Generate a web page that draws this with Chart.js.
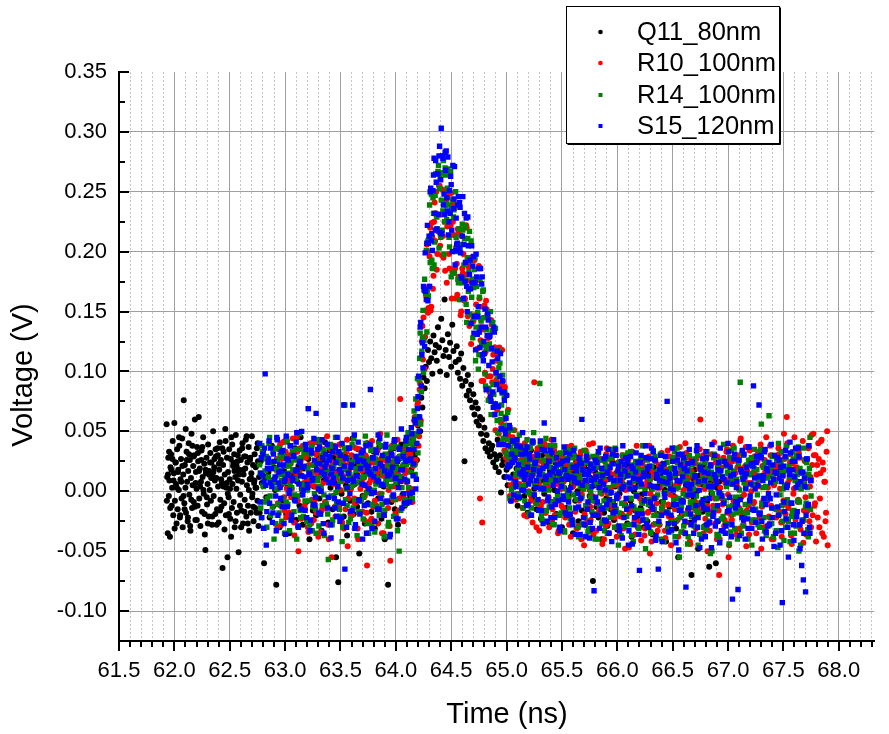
<!DOCTYPE html>
<html>
<head>
<meta charset="utf-8">
<title>Voltage vs time</title>
<script src="https://cdn.jsdelivr.net/npm/chart.js@4.4.1/dist/chart.umd.min.js"></script>
<style>
  html, body { margin: 0; padding: 0; background: #fff; }
  canvas { display: block; }
</style>
</head>
<body>
<canvas id="chart" width="889" height="734"></canvas>
<script>
// sample times (ns). Q11 starts earlier than the other three.
const q11EarlyTime = [
  61.930,61.935,61.940,61.945,61.950,61.955,61.960,61.965,61.970,61.975,
  61.980,61.985,61.990,61.995,62.000,62.005,62.010,62.015,62.020,62.025,
  62.030,62.035,62.040,62.045,62.050,62.055,62.060,62.065,62.070,62.075,
  62.080,62.085,62.090,62.095,62.100,62.105,62.110,62.115,62.120,62.125,
  62.130,62.135,62.140,62.145,62.150,62.155,62.160,62.165,62.170,62.175,
  62.180,62.185,62.190,62.195,62.200,62.205,62.210,62.215,62.220,62.225,
  62.230,62.235,62.240,62.245,62.250,62.255,62.260,62.265,62.270,62.275,
  62.280,62.285,62.290,62.295,62.300,62.305,62.310,62.315,62.320,62.325,
  62.330,62.335,62.340,62.345,62.350,62.355,62.360,62.365,62.370,62.375,
  62.380,62.385,62.390,62.395,62.400,62.405,62.410,62.415,62.420,62.425,
  62.430,62.435,62.440,62.445,62.450,62.455,62.460,62.465,62.470,62.475,
  62.480,62.485,62.490,62.495,62.500,62.505,62.510,62.515,62.520,62.525,
  62.530,62.535,62.540,62.545,62.550,62.555,62.560,62.565,62.570,62.575,
  62.580,62.585,62.590,62.595,62.600,62.605,62.610,62.615,62.620,62.625,
  62.630,62.635,62.640,62.645,62.650,62.655,62.660,62.665,62.670,62.675,
  62.680,62.685,62.690,62.695,62.700,62.705,62.710,62.715,62.720,62.725,
  62.730,62.735,62.740,62.745,62.750,62.755,62.760,62.765
];
const q11EarlyTimeOdd = [
  61.9325,61.9425,61.9525,61.9625,61.9725,61.9825,61.9925,62.0025,62.0125,62.0225,
  62.0325,62.0425,62.0525,62.0625,62.0725,62.0825,62.0925,62.1025,62.1125,62.1225,
  62.1325,62.1425,62.1525,62.1625,62.1725,62.1825,62.1925,62.2025,62.2125,62.2225,
  62.2325,62.2425,62.2525,62.2625,62.2725,62.2825,62.2925,62.3025,62.3125,62.3225,
  62.3325,62.3425,62.3525,62.3625,62.3725,62.3825,62.3925,62.4025,62.4125,62.4225,
  62.4325,62.4425,62.4525,62.4625,62.4725,62.4825,62.4925,62.5025,62.5125,62.5225,
  62.5325,62.5425,62.5525,62.5625,62.5725,62.5825,62.5925,62.6025,62.6125,62.6225,
  62.6325,62.6425,62.6525,62.6625,62.6725,62.6825,62.6925,62.7025,62.7125,62.7225,
  62.7325,62.7425,62.7525,62.7625
];

const timeNs = [
  62.77,62.78,62.79,62.80,62.81,62.82,62.83,62.84,62.85,62.86,
  62.87,62.88,62.89,62.90,62.91,62.92,62.93,62.94,62.95,62.96,
  62.97,62.98,62.99,63.00,63.01,63.02,63.03,63.04,63.05,63.06,
  63.07,63.08,63.09,63.10,63.11,63.12,63.13,63.14,63.15,63.16,
  63.17,63.18,63.19,63.20,63.21,63.22,63.23,63.24,63.25,63.26,
  63.27,63.28,63.29,63.30,63.31,63.32,63.33,63.34,63.35,63.36,
  63.37,63.38,63.39,63.40,63.41,63.42,63.43,63.44,63.45,63.46,
  63.47,63.48,63.49,63.50,63.51,63.52,63.53,63.54,63.55,63.56,
  63.57,63.58,63.59,63.60,63.61,63.62,63.63,63.64,63.65,63.66,
  63.67,63.68,63.69,63.70,63.71,63.72,63.73,63.74,63.75,63.76,
  63.77,63.78,63.79,63.80,63.81,63.82,63.83,63.84,63.85,63.86,
  63.87,63.88,63.89,63.90,63.91,63.92,63.93,63.94,63.95,63.96,
  63.97,63.98,63.99,64.00,64.01,64.02,64.03,64.04,64.05,64.06,
  64.07,64.08,64.09,64.10,64.11,64.12,64.13,64.14,64.15,64.16,
  64.17,64.18,64.19,64.20,64.21,64.22,64.23,64.24,64.25,64.26,
  64.27,64.28,64.29,64.30,64.31,64.32,64.33,64.34,64.35,64.36,
  64.37,64.38,64.39,64.40,64.41,64.42,64.43,64.44,64.45,64.46,
  64.47,64.48,64.49,64.50,64.51,64.52,64.53,64.54,64.55,64.56,
  64.57,64.58,64.59,64.60,64.61,64.62,64.63,64.64,64.65,64.66,
  64.67,64.68,64.69,64.70,64.71,64.72,64.73,64.74,64.75,64.76,
  64.77,64.78,64.79,64.80,64.81,64.82,64.83,64.84,64.85,64.86,
  64.87,64.88,64.89,64.90,64.91,64.92,64.93,64.94,64.95,64.96,
  64.97,64.98,64.99,65.00,65.01,65.02,65.03,65.04,65.05,65.06,
  65.07,65.08,65.09,65.10,65.11,65.12,65.13,65.14,65.15,65.16,
  65.17,65.18,65.19,65.20,65.21,65.22,65.23,65.24,65.25,65.26,
  65.27,65.28,65.29,65.30,65.31,65.32,65.33,65.34,65.35,65.36,
  65.37,65.38,65.39,65.40,65.41,65.42,65.43,65.44,65.45,65.46,
  65.47,65.48,65.49,65.50,65.51,65.52,65.53,65.54,65.55,65.56,
  65.57,65.58,65.59,65.60,65.61,65.62,65.63,65.64,65.65,65.66,
  65.67,65.68,65.69,65.70,65.71,65.72,65.73,65.74,65.75,65.76,
  65.77,65.78,65.79,65.80,65.81,65.82,65.83,65.84,65.85,65.86,
  65.87,65.88,65.89,65.90,65.91,65.92,65.93,65.94,65.95,65.96,
  65.97,65.98,65.99,66.00,66.01,66.02,66.03,66.04,66.05,66.06,
  66.07,66.08,66.09,66.10,66.11,66.12,66.13,66.14,66.15,66.16,
  66.17,66.18,66.19,66.20,66.21,66.22,66.23,66.24,66.25,66.26,
  66.27,66.28,66.29,66.30,66.31,66.32,66.33,66.34,66.35,66.36,
  66.37,66.38,66.39,66.40,66.41,66.42,66.43,66.44,66.45,66.46,
  66.47,66.48,66.49,66.50,66.51,66.52,66.53,66.54,66.55,66.56,
  66.57,66.58,66.59,66.60,66.61,66.62,66.63,66.64,66.65,66.66,
  66.67,66.68,66.69,66.70,66.71,66.72,66.73,66.74,66.75,66.76,
  66.77,66.78,66.79,66.80,66.81,66.82,66.83,66.84,66.85,66.86,
  66.87,66.88,66.89,66.90,66.91,66.92,66.93,66.94,66.95,66.96,
  66.97,66.98,66.99,67.00,67.01,67.02,67.03,67.04,67.05,67.06,
  67.07,67.08,67.09,67.10,67.11,67.12,67.13,67.14,67.15,67.16,
  67.17,67.18,67.19,67.20,67.21,67.22,67.23,67.24,67.25,67.26,
  67.27,67.28,67.29,67.30,67.31,67.32,67.33,67.34,67.35,67.36,
  67.37,67.38,67.39,67.40,67.41,67.42,67.43,67.44,67.45,67.46,
  67.47,67.48,67.49,67.50,67.51,67.52,67.53,67.54,67.55,67.56,
  67.57,67.58,67.59,67.60,67.61,67.62,67.63,67.64,67.65,67.66,
  67.67,67.68,67.69,67.70,67.71,67.72,67.73,67.74,67.75,67.76,
  67.77,67.78,67.79,67.80,67.81,67.82,67.83,67.84,67.85,67.86,
  67.87,67.88,67.89,67.90
];

// in-between samples for the three later sweeps
const timeNsOdd = [
  62.775,62.785,62.795,62.805,62.815,62.825,62.835,62.845,62.855,62.865,
  62.875,62.885,62.895,62.905,62.915,62.925,62.935,62.945,62.955,62.965,
  62.975,62.985,62.995,63.005,63.015,63.025,63.035,63.045,63.055,63.065,
  63.075,63.085,63.095,63.105,63.115,63.125,63.135,63.145,63.155,63.165,
  63.175,63.185,63.195,63.205,63.215,63.225,63.235,63.245,63.255,63.265,
  63.275,63.285,63.295,63.305,63.315,63.325,63.335,63.345,63.355,63.365,
  63.375,63.385,63.395,63.405,63.415,63.425,63.435,63.445,63.455,63.465,
  63.475,63.485,63.495,63.505,63.515,63.525,63.535,63.545,63.555,63.565,
  63.575,63.585,63.595,63.605,63.615,63.625,63.635,63.645,63.655,63.665,
  63.675,63.685,63.695,63.705,63.715,63.725,63.735,63.745,63.755,63.765,
  63.775,63.785,63.795,63.805,63.815,63.825,63.835,63.845,63.855,63.865,
  63.875,63.885,63.895,63.905,63.915,63.925,63.935,63.945,63.955,63.965,
  63.975,63.985,63.995,64.005,64.015,64.025,64.035,64.045,64.055,64.065,
  64.075,64.085,64.095,64.105,64.115,64.125,64.135,64.145,64.155,64.165,
  64.175,64.185,64.195,64.205,64.215,64.225,64.235,64.245,64.255,64.265,
  64.275,64.285,64.295,64.305,64.315,64.325,64.335,64.345,64.355,64.365,
  64.375,64.385,64.395,64.405,64.415,64.425,64.435,64.445,64.455,64.465,
  64.475,64.485,64.495,64.505,64.515,64.525,64.535,64.545,64.555,64.565,
  64.575,64.585,64.595,64.605,64.615,64.625,64.635,64.645,64.655,64.665,
  64.675,64.685,64.695,64.705,64.715,64.725,64.735,64.745,64.755,64.765,
  64.775,64.785,64.795,64.805,64.815,64.825,64.835,64.845,64.855,64.865,
  64.875,64.885,64.895,64.905,64.915,64.925,64.935,64.945,64.955,64.965,
  64.975,64.985,64.995,65.005,65.015,65.025,65.035,65.045,65.055,65.065,
  65.075,65.085,65.095,65.105,65.115,65.125,65.135,65.145,65.155,65.165,
  65.175,65.185,65.195,65.205,65.215,65.225,65.235,65.245,65.255,65.265,
  65.275,65.285,65.295,65.305,65.315,65.325,65.335,65.345,65.355,65.365,
  65.375,65.385,65.395,65.405,65.415,65.425,65.435,65.445,65.455,65.465,
  65.475,65.485,65.495,65.505,65.515,65.525,65.535,65.545,65.555,65.565,
  65.575,65.585,65.595,65.605,65.615,65.625,65.635,65.645,65.655,65.665,
  65.675,65.685,65.695,65.705,65.715,65.725,65.735,65.745,65.755,65.765,
  65.775,65.785,65.795,65.805,65.815,65.825,65.835,65.845,65.855,65.865,
  65.875,65.885,65.895,65.905,65.915,65.925,65.935,65.945,65.955,65.965,
  65.975,65.985,65.995,66.005,66.015,66.025,66.035,66.045,66.055,66.065,
  66.075,66.085,66.095,66.105,66.115,66.125,66.135,66.145,66.155,66.165,
  66.175,66.185,66.195,66.205,66.215,66.225,66.235,66.245,66.255,66.265,
  66.275,66.285,66.295,66.305,66.315,66.325,66.335,66.345,66.355,66.365,
  66.375,66.385,66.395,66.405,66.415,66.425,66.435,66.445,66.455,66.465,
  66.475,66.485,66.495,66.505,66.515,66.525,66.535,66.545,66.555,66.565,
  66.575,66.585,66.595,66.605,66.615,66.625,66.635,66.645,66.655,66.665,
  66.675,66.685,66.695,66.705,66.715,66.725,66.735,66.745,66.755,66.765,
  66.775,66.785,66.795,66.805,66.815,66.825,66.835,66.845,66.855,66.865,
  66.875,66.885,66.895,66.905,66.915,66.925,66.935,66.945,66.955,66.965,
  66.975,66.985,66.995,67.005,67.015,67.025,67.035,67.045,67.055,67.065,
  67.075,67.085,67.095,67.105,67.115,67.125,67.135,67.145,67.155,67.165,
  67.175,67.185,67.195,67.205,67.215,67.225,67.235,67.245,67.255,67.265,
  67.275,67.285,67.295,67.305,67.315,67.325,67.335,67.345,67.355,67.365,
  67.375,67.385,67.395,67.405,67.415,67.425,67.435,67.445,67.455,67.465,
  67.475,67.485,67.495,67.505,67.515,67.525,67.535,67.545,67.555,67.565,
  67.575,67.585,67.595,67.605,67.615,67.625,67.635,67.645,67.655,67.665,
  67.675,67.685,67.695,67.705,67.715,67.725,67.735,67.745,67.755,67.765,
  67.775,67.785,67.795,67.805,67.815,67.825,67.835,67.845,67.855,67.865,
  67.875,67.885,67.895
];

// voltages in mV
const q11EarlymV = [
  56,12,-35,28,-4,9,-38,20,31,-12,
  3,42,-20,15,57,-8,24,6,-27,35,
  -15,18,1,38,-22,10,27,-6,44,-30,
  14,76,-10,22,3,-18,33,8,-25,17,
  40,-3,26,-33,11,48,-14,5,21,-9,
  30,60,-24,16,2,37,-12,25,62,-6,
  19,-29,8,34,-17,12,45,-2,23,-36,
  -49,15,28,-11,6,39,-21,17,1,32,
  -8,24,-28,13,50,-4,20,9,-19,29,
  11,-15,36,4,-26,18,41,-7,26,-13,
  7,-64,22,33,-10,14,52,-20,3,28,
  -55,16,-5,35,10,-23,27,45,-14,6,
  21,-9,31,-30,12,47,2,-18,25,9,
  -51,18,34,-3,26,-16,8,40,-27,14,
  29,-7,19,43,-21,5,24,-12,37,-33,
  10,28,-18,15,46,-2,22,-25,7,31,
  -14,20,3,36,-8,25,-29,12
];
const q11EarlymVOdd = [
  -8,14,33,-14,18,27,9,-31,24,3,
  16,45,-20,8,21,-4,-15,52,26,-22,
  31,-29,-7,38,29,-13,7,-24,32,17,
  4,26,37,1,-19,18,-5,-27,14,24,
  11,-21,16,27,35,-28,30,23,-16,10,
  36,4,-32,42,7,-2,-19,2,-38,39,
  24,17,-25,21,30,14,-12,-30,36,18,
  -17,29,46,-27,1,26,11,-5,-13,9,
  3,-18,40,24
];

// Q11 on timeNs, ends at 66.93
const q11mV = [
  -18,25,7,33,-60,12,-5,28,16,-22,
  9,38,-13,20,1,-78,26,14,-30,5,
  31,-8,17,42,-19,3,24,-35,11,29,
  -4,15,36,-24,8,21,-12,45,2,-28,
  19,33,-9,6,27,-40,13,38,-16,4,
  22,-20,10,30,-6,17,-33,26,9,41,
  -11,14,-26,34,3,20,-15,28,7,-55,
  16,-76,24,39,-2,12,-21,30,5,-37,
  18,27,-8,11,44,-19,6,23,-13,35,
  -52,9,31,-4,16,-27,21,40,-10,2,
  26,-17,13,33,-31,8,19,-6,37,15,
  -23,29,4,-40,18,10,-78,24,32,-9,
  14,36,-15,21,5,-28,27,12,39,-3,
  20,-12,31,8,25,43,-5,18,34,22,
  30,48,26,55,62,50,78,70,95,86,
  104,92,118,108,125,111,98,130,116,122,
  109,137,120,100,144,126,113,160,118,97,
  131,112,124,104,139,117,61,108,121,99,
  110,94,115,88,103,25,92,80,97,84,
  76,89,70,81,64,74,58,69,55,62,
  48,60,42,53,36,47,33,40,29,35,
  38,24,31,20,27,43,16,30,-1,22,
  26,12,33,18,5,29,21,-8,24,14,
  31,9,19,-12,25,16,36,3,13,-4,
  22,8,-18,27,11,34,-6,15,2,20,
  -15,26,6,17,-23,30,9,-2,21,12,
  4,-26,18,28,-9,13,1,24,-19,7,
  15,-7,23,-30,10,3,19,-14,27,-3,
  -20,12,6,-35,17,-8,25,0,-25,9,
  14,-16,2,21,-28,7,-11,18,-4,11,
  -33,-75,5,16,-13,24,-22,3,13,-40,
  8,-18,20,-6,-29,10,1,-15,26,-9,
  -24,4,15,-32,9,-2,19,-19,6,12,
  -11,22,-27,3,14,-8,-38,17,0,-16,
  10,-21,5,25,-14,-3,13,-30,18,-7,
  -25,7,16,-12,2,-36,20,-5,11,-19,
  4,-28,14,-9,23,-17,1,-42,9,17,
  -13,6,-24,19,-4,12,-31,3,-55,8,
  15,-20,-8,24,-35,5,10,-15,2,-26,
  -70,11,-6,18,-22,0,-48,13,-11,6,
  -17,21,-29,4,-9,16,-63,7,-2,-20,
  10,-14,-60,3,-25,8,-5
];

// R10 on timeNs, starts at 62.92
const r10mV = [
  null,null,null,null,null,null,null,null,null,null,null,null,null,null,null,
  18,-30,35,6,-12,27,41,-5,14,-22,
  9,30,-18,23,2,44,-26,12,-8,33,
  -50,16,25,-3,38,7,-15,29,19,-34,
  11,40,-7,22,-24,4,31,15,-38,26,
  3,-16,35,20,-9,12,46,-28,8,17,
  -55,24,6,-13,32,15,-21,39,1,28,
  13,-31,22,9,43,-6,18,-19,30,5,
  25,-10,36,14,-40,21,2,33,-17,11,
  -4,29,-62,17,7,38,-23,24,10,-8,
  34,15,-27,20,48,-2,13,-35,26,6,
  19,-14,31,-58,10,23,4,37,-20,15,
  28,-6,77,12,21,-25,35,8,17,40,
  0,31,40,-9,24,62,26,56,74,46,
  90,84,138,145,102,151,206,149,171,220,
  154,212,180,241,232,185,217,255,205,231,
  252,195,225,242,174,245,198,224,249,183,
  214,236,161,190,219,179,219,150,186,198,
  159,181,220,146,187,193,123,170,142,193,
  145,176,132,188,-6,137,-26,92,155,116,
  152,96,122,78,143,91,114,120,51,93,
  114,48,89,57,118,87,34,51,80,24,
  46,-4,42,26,-6,51,11,40,-5,24,
  38,5,27,16,-20,33,11,24,0,19,
  -8,29,14,91,22,-30,36,7,18,-12,
  25,3,40,-18,13,31,-5,20,9,-25,
  17,34,-10,6,26,-33,15,2,28,-14,
  10,-22,23,37,-6,14,-38,19,4,30,
  -17,8,25,-29,12,33,-3,21,-45,6,
  16,-11,28,1,-24,18,40,-8,11,-33,
  22,5,-19,27,-2,14,-40,9,31,-12,
  -27,18,3,24,-15,7,35,-30,12,-5,
  20,-21,9,29,-10,-48,15,2,26,-18,
  6,33,-14,17,-36,11,-4,22,-25,13,
  -9,25,4,-31,19,8,-17,38,-2,-42,
  14,-6,27,-20,3,16,-28,10,32,-13,
  21,-33,7,18,-11,29,-3,-22,12,36,
  -15,5,24,-38,15,-7,30,-19,1,20,
  -26,11,-4,28,-44,17,6,-14,23,-31,
  8,-18,19,60,-9,13,-35,2,26,-12,
  17,-27,5,31,-16,10,-6,24,-40,14,
  -70,3,20,-11,28,-24,9,35,-3,-45,
  12,-20,25,-8,16,-32,4,30,-14,42,
  -5,19,-28,11,37,-16,7,-36,22,0,
  15,-10,29,-25,6,33,-19,12,-48,21,
  -7,26,-30,14,3,-21,38,-12,17,-40,
  10,-15,23,-33,31,2,-26,18,-8,27,
  -19,62,7,-11,24,-37,13,-2,45,-24,
  20,-9,32,-28,8,15,-43,26,-5,11,
  -16,37,4,-30,22,48,-12,30,14,-22,
  27,-6,42,-35,18,8,-25,33,-45
];
// R10 on timeNsOdd, starts at 62.925
const r10mVOdd = [
  null,null,null,null,null,null,null,null,null,null,null,null,null,null,null,
  27,-10,15,39,-28,6,21,-16,33,2,
  -19,24,8,-5,31,17,-37,12,45,-8,
  14,36,-23,20,3,-12,28,9,-30,22,
  5,-27,32,16,-9,41,-18,25,1,13,
  -34,19,7,29,-14,22,10,-40,26,35,
  18,-4,38,-21,11,4,30,-11,16,-26,
  9,27,-15,33,-46,14,23,2,-20,37,
  -6,13,25,-31,19,35,-8,17,6,-24,
  30,-18,3,21,-25,10,42,-13,24,8,
  -12,34,18,-2,27,-35,15,30,-9,20,
  22,1,-29,12,38,-7,26,-19,11,43,
  -16,29,10,35,-4,20,15,40,27,31,
  28,2,46,21,59,23,47,72,38,85,
  59,125,110,170,129,163,200,153,196,151,
  224,169,225,209,250,198,231,255,213,197,
  213,251,184,239,221,249,186,222,161,225,
  240,186,204,164,216,200,147,213,182,161,
  161,222,176,191,138,195,175,142,193,147,
  156,119,177,161,126,92,154,135,99,159,
  147,128,83,96,139,102,64,120,109,68,
  71,120,90,40,92,60,87,28,48,68,
  45,5,29,45,7,28,-7,35,17,6,
  31,2,-14,24,40,9,-21,18,36,-3,
  15,-26,28,6,-10,33,20,-33,12,25,
  -9,21,37,-18,4,27,-30,14,43,-15,
  26,-20,10,31,-35,16,2,-12,29,8,
  -17,35,-5,19,-28,12,38,-24,5,22,
  11,-31,24,-8,30,-40,17,7,-19,34,
  -26,9,39,-13,21,-4,-36,28,13,-10,
  20,-16,3,26,-44,18,8,-29,36,-2,
  -35,27,-11,14,32,-22,5,-38,24,10,
  6,-19,30,-31,17,1,26,-14,-47,19,
  -14,33,8,-25,12,38,-30,15,-6,-41,
  23,-8,-37,20,4,-18,29,-52,11,16,
  -28,14,25,-10,-33,22,3,31,-16,7,
  17,-39,9,34,-21,12,-45,19,2,-27,
  -5,28,-24,6,37,-13,21,-34,15,40,
  32,-17,11,-42,24,-2,-28,13,-9,27,
  -20,6,35,-15,-38,30,10,-23,18,-50,
  13,-33,22,3,-12,41,-27,8,29,-16,
  -40,19,-6,26,-29,7,33,-18,-55,24,
  9,-24,38,-11,15,-36,20,2,-31,44,
  -18,31,-3,21,-46,16,-12,34,7,-26,
  27,-9,14,-35,25,4,-22,39,-13,11,
  -30,16,45,-8,12,-27,30,-40,21,5,
  8,-22,19,36,-17,26,-38,13,48,-11,
  -24,40,-14,10,31,-44,23,2,-19,35,
  18,-7,28,-32,6,42,-16,25,-36,14,
  36,-25,12,47,-20,30,-10,-42,22,40,
  -30,15,43,24,-38,8,-18,50
];

// R14 on timeNs, ends at 67.75
const r14mV = [
  22,-14,38,5,-31,17,29,-6,12,45,
  -20,8,33,-40,19,2,26,-11,36,14,
  -25,30,7,21,-9,41,15,-33,24,3,
  18,-17,35,10,-4,27,48,-22,13,6,
  32,-8,20,1,69,-28,16,37,-13,9,
  25,-35,11,43,4,-19,30,14,-3,22,
  -10,28,-57,17,39,7,-24,20,34,-1,
  13,26,-15,8,31,-30,19,72,2,-12,
  36,10,-23,24,5,44,-7,16,-37,29,
  8,-18,33,12,-5,21,40,-27,15,1,
  27,-11,18,35,-34,6,24,11,-20,38,
  -3,16,29,-16,9,47,-29,22,4,31,
  14,-21,26,7,37,19,-50,12,28,20,
  22,-7,38,9,49,-8,24,40,-6,44,
  22,77,48,32,93,132,83,128,99,177,
  165,133,209,210,191,248,186,232,208,265,
  229,267,203,262,243,218,276,225,264,227,
  269,212,233,179,243,229,182,250,205,177,
  219,202,160,223,177,211,176,141,211,183,
  148,209,177,144,185,109,171,149,114,177,
  142,113,168,122,88,135,145,86,119,64,
  134,89,73,136,90,49,103,107,65,82,
  44,79,62,31,66,28,-6,43,34,3,
  28,8,36,18,-6,31,12,24,-14,20,
  5,33,15,-19,26,9,40,-3,17,22,
  -10,29,11,90,3,-24,19,34,7,-16,
  24,1,38,-9,14,27,-28,10,20,-4,
  31,-20,16,6,25,-33,12,35,-1,18,
  -14,22,8,-26,30,13,-7,19,-38,11,
  26,-5,17,34,-22,4,15,-31,23,0,
  -17,29,9,-40,20,6,32,-12,14,-27,
  18,-8,25,3,-35,21,-2,11,28,-19,
  7,36,-15,16,-45,24,2,-10,30,-29,
  13,-21,27,5,-6,33,-37,15,-13,20,
  -3,23,-30,10,18,-16,38,-8,1,-24,
  26,-11,12,-34,21,4,-20,29,-5,14,
  -27,8,31,-14,17,-42,11,-1,24,-18,
  6,19,-33,28,-7,13,-25,36,3,-55,
  20,-12,9,-29,25,-4,15,-38,30,-9,
  -21,14,2,27,-16,7,-45,22,-10,18,
  11,-30,24,-6,33,-19,5,-52,16,-2,
  28,-14,8,-36,19,-3,26,-23,12,39,
  -8,21,-27,15,-44,6,34,-12,17,-31,
  9,-18,25,-5,91,-35,12,30,-20,3,
  22,-40,14,-9,28,-24,6,35,-15,18,
  -28,10,31,56,-12,20,-33,4,24,-6,
  63,-22,13,29,-38,8,-14,26,-47,15,
  -3,33,-25,17,5,-30,38,-10,21,-42,
  12,-17,27,-35,9,30,-8,-50,19,2,
  -24,36,7,-13,24,-32,14,45,-4
];
// R14 on timeNsOdd, ends at 67.745
const r14mVOdd = [
  15,-22,33,4,-9,27,-30,11,40,-4,
  24,-13,7,36,-27,18,2,-18,30,9,
  -6,29,-35,14,44,-11,21,5,-24,33,
  10,-3,26,-40,17,35,-16,28,1,-21,
  38,6,-25,19,-8,31,12,-33,22,-2,
  -15,25,9,-29,41,3,-12,34,-37,16,
  27,-19,37,8,-4,-28,20,13,45,-10,
  2,32,-21,23,-42,11,36,-7,18,28,
  -26,14,4,39,-14,25,-31,19,7,-17,
  21,-8,30,-23,12,46,-1,26,-35,14,
  34,-29,16,1,27,-13,8,41,-20,5,
  -11,20,-38,31,6,17,-26,10,36,-5,
  18,40,-7,24,-33,13,29,-16,3,32,
  29,-11,22,44,3,41,16,-6,39,67,
  14,62,94,58,111,56,117,151,126,167,
  201,168,163,239,213,193,245,189,247,231,
  219,272,253,212,266,234,198,270,240,253,
  239,204,267,236,182,235,200,212,239,174,
  160,206,174,218,189,221,156,195,167,217,
  193,162,128,170,195,137,178,102,162,144,
  124,167,145,98,119,146,76,123,150,82,
  141,81,118,98,59,96,117,60,72,97,
  55,83,32,43,50,23,37,1,51,27,
  40,14,32,-2,47,25,4,36,19,-8,
  27,43,-1,21,36,-14,14,49,6,25,
  -8,30,17,39,-20,14,26,1,44,8,
  31,-13,20,9,-27,26,38,-7,16,-20,
  11,32,-18,20,3,-34,27,16,-6,34,
  -23,13,28,-3,36,-15,7,-30,21,4,
  16,-27,2,24,-12,31,-34,10,-5,19,
  -8,22,-19,7,29,-40,14,-1,26,-25,
  12,-33,20,-14,3,27,-22,35,-9,6,
  -30,8,-4,23,-18,11,-37,17,30,-12,
  5,-21,32,-28,15,-6,22,-42,9,25,
  -16,18,-31,4,27,-10,-24,13,-48,20,
  28,-7,10,-35,2,34,-15,-27,16,-3,
  -20,11,-40,21,-9,6,29,-17,-31,14,
  7,-26,19,-12,33,-38,3,24,-6,-22,
  -34,15,-2,26,-19,9,-44,18,1,-13,
  22,-9,-29,12,-4,30,-18,-36,8,17,
  -11,27,5,-32,19,-25,11,2,-50,13,
  31,-15,-6,20,-38,14,-2,25,-21,-8,
  -27,4,16,-13,28,-34,9,-19,36,-5,
  10,-40,23,1,-16,32,-29,7,-11,21,
  -18,26,-8,14,-45,5,19,-24,29,-3,
  13,-30,35,-10,3,-22,24,-37,11,18,
  -6,20,-27,30,-14,8,-33,15,40,-19,
  24,-12,2,-41,17,28,-7,-25,12,-35,
  -21,33,-16,9,-29,14,37,-9,-45,6,
  15,-24,26,-10,3,-38,19,-15
];

// S15 on timeNs, ends at 67.75
const s15mV = [
  40,15,-22,31,8,98,-45,19,27,-10,
  36,4,-18,25,12,-33,43,7,22,-6,
  17,34,-27,10,46,-13,26,1,38,-20,
  9,29,-8,41,18,-30,24,13,50,-3,
  21,-16,35,6,69,14,-24,32,11,44,
  -12,65,23,2,37,-19,16,28,-35,20,
  10,39,-5,26,-28,14,33,7,-14,24,
  45,-9,18,30,-22,11,72,-65,27,3,
  15,36,-17,22,72,8,-31,29,13,41,
  -7,19,32,-40,25,5,38,-11,21,16,
  85,-2,28,12,-25,34,9,47,-15,23,
  6,30,-20,17,39,-8,26,14,-36,31,
  20,-4,43,11,27,-23,35,8,52,18,
  -2,10,42,-10,26,-2,26,53,-1,23,
  60,2,40,79,50,137,88,124,171,121,
  167,207,159,213,250,209,201,264,232,276,
  219,265,280,216,303,280,239,231,268,245,
  279,225,232,256,200,236,271,201,206,239,
  203,237,179,213,161,232,191,171,229,169,
  193,140,174,196,146,118,179,146,186,120,
  137,179,109,115,137,85,148,105,130,75,
  108,70,133,73,89,111,39,96,52,83,
  39,76,48,80,20,22,53,-8,24,42,
  26,8,38,-5,22,15,31,1,18,10,
  34,-12,20,6,27,-20,13,41,-3,24,
  9,30,-16,17,2,35,-27,57,12,21,
  -8,25,14,-22,32,5,19,-11,28,0,
  16,-30,23,10,-4,37,-18,13,26,-9,
  31,3,-24,20,11,-36,17,7,-13,24,
  -6,60,18,-28,9,29,-15,14,-39,22,
  4,-20,-83,26,12,-9,33,-31,8,19,
  -14,27,1,-25,16,35,-7,11,-42,23,
  9,-17,30,-3,21,-33,14,2,38,-22,
  17,-6,25,-45,7,29,-12,19,-28,3,
  32,-19,10,-66,24,6,-24,15,-2,28,
  -30,13,21,-9,36,-15,4,26,-37,11,
  -65,18,30,-20,8,23,-5,16,75,-27,
  14,2,-32,25,-11,19,-43,9,31,-16,
  22,-8,12,28,-25,-80,17,-3,35,-19,
  6,24,-35,13,-12,38,-22,1,20,-40,
  27,-14,9,33,-28,15,-6,22,-47,4,
  -18,30,11,-25,18,-1,36,-33,12,-10,
  25,-29,7,40,-16,20,-38,-90,14,31,
  -9,8,-82,26,-7,16,34,-24,12,2,
  20,-31,37,-4,23,-15,88,11,-26,29,
  5,72,-18,28,-40,13,33,-11,19,-29,
  24,-6,39,-22,10,30,-35,15,-13,26,
  -45,8,-93,21,-17,34,3,-30,18,41,
  -10,25,-28,12,36,-21,6,29,-48,16,
  -25,-74,11,-84,27,-12,38,-35,9
];
// S15 on timeNsOdd, ends at 67.745
const s15mVOdd = [
  -9,28,13,-31,36,5,-17,24,42,7,
  19,-26,31,10,-4,45,-20,16,3,33,
  -13,22,8,-36,27,14,-2,38,-24,11,
  30,-7,17,49,-29,6,25,-15,20,1,
  12,39,-22,3,15,-33,34,9,-11,26,
  -5,18,35,-18,23,0,43,-27,14,31,
  24,-14,7,29,-39,19,11,-6,37,-21,
  4,33,-25,15,40,-10,21,28,-30,9,
  36,-2,20,-16,10,47,-28,13,25,-8,
  -19,26,6,34,-12,22,-35,17,2,39,
  14,-31,28,-1,19,32,-15,8,44,-6,
  21,5,-20,37,-9,13,27,-38,16,30,
  -3,42,11,-23,25,3,36,18,-14,29,
  -10,25,45,8,35,-9,27,48,13,35,
  57,10,69,96,62,141,114,103,168,199,
  160,222,207,171,253,215,251,278,218,258,
  265,231,288,260,215,278,248,283,284,234,
  214,251,263,218,272,244,189,228,207,246,
  241,199,178,246,206,175,228,150,205,181,
  169,205,188,132,174,198,131,154,133,186,
  173,114,125,152,85,130,143,129,79,119,
  83,137,64,99,117,71,85,115,52,92,
  83,51,61,12,38,55,11,31,42,-3,
  28,4,43,22,-5,37,14,49,1,31,
  14,37,-11,31,9,-20,42,18,23,3,
  31,-7,14,42,-16,19,2,34,10,-25,
  -5,25,34,-13,16,43,-22,9,22,-8,
  15,-33,4,25,-7,18,32,-20,10,1,
  -19,12,-28,34,8,-14,21,-2,28,-36,
  23,5,-22,14,-38,26,-9,17,-26,9,
  -31,19,10,-5,24,-20,3,36,-15,13,
  6,-24,29,-11,15,-35,20,-1,31,-18,
  -12,35,-6,17,-29,9,25,-39,4,22,
  28,-15,13,-33,2,21,-44,11,-22,16,
  -4,24,-36,8,30,-19,12,-8,38,-27,
  19,-30,5,27,-13,33,-6,-41,14,3,
  -25,9,20,-42,16,-2,29,-18,7,-34,
  11,-20,36,1,-27,15,-11,26,-49,8,
  -16,31,-9,19,-35,6,23,-14,2,-28,
  25,-3,-24,12,34,-30,8,-47,18,-10,
  -7,16,-38,28,-15,4,-26,21,39,-21,
  14,-29,7,-12,24,-43,17,-4,-33,10,
  -35,22,-17,33,-5,13,-28,6,27,-14,
  3,-11,26,-37,18,-22,10,31,-40,15,
  -23,37,-8,6,-31,21,-16,2,24,-52,
  12,-19,30,-25,9,-6,35,-34,17,-2,
  -28,7,-14,22,-46,16,-3,28,-20,11,
  20,-33,13,-9,29,-23,5,-55,14,32,
  -10,18,-41,25,3,-17,36,-28,8,-62,
  16,-35,4,-20,27,-11,-30,9
];

const seriesNames = ['Q11_80nm', 'R10_100nm', 'R14_100nm', 'S15_120nm'];
const seriesColors = ['#000000', '#ff0000', '#008000', '#0000ff'];

const timeTicks = [61.5, 62.0, 62.5, 63.0, 63.5, 64.0, 64.5, 65.0, 65.5, 66.0, 66.5, 67.0, 67.5, 68.0];
const voltTicks = [-0.10, -0.05, 0.00, 0.05, 0.10, 0.15, 0.20, 0.25, 0.30, 0.35];
const xTitle = 'Time (ns)';
const yTitle = 'Voltage (V)';

const FONT = '"Liberation Sans", Arial, sans-serif';

function toPoints(times, mv) {
  const pts = [];
  for (let i = 0; i < mv.length && i < times.length; i++) {
    if (mv[i] !== null) pts.push({ x: times[i], y: mv[i] / 1000 });
  }
  return pts;
}

const isMajorTime = v => timeTicks.some(t => Math.abs(t - v) < 1e-6);
const isMajorVolt = v => voltTicks.some(t => Math.abs(t - v) < 1e-6);

// minor ticks: 0.1 ns on x, 0.025 V on y
const xTickValues = [];
for (let k = 615; k <= 683; k++) xTickValues.push(k / 10);
const yTickValues = [];
for (let k = -5; k <= 14; k++) yTickValues.push(Math.round(k * 25) / 1000);

const axisDecor = {
  id: 'axisDecor',
  afterDraw(chart) {
    const { ctx, chartArea: a, scales: { x, y } } = chart;
    ctx.save();
    // ticks: x outward, y inward
    ctx.strokeStyle = '#000';
    ctx.lineWidth = 2;
    ctx.beginPath();
    xTickValues.forEach(v => {
      const px = Math.round(x.getPixelForValue(v));
      if (px > a.right) return;
      ctx.moveTo(px, a.bottom);
      ctx.lineTo(px, a.bottom + (isMajorTime(v) ? 10 : 6));
    });
    yTickValues.forEach(v => {
      const py = Math.round(y.getPixelForValue(v));
      ctx.moveTo(a.left, py);
      ctx.lineTo(a.left + (isMajorVolt(v) ? 10 : 6), py);
    });
    ctx.stroke();

    // axis titles
    ctx.fillStyle = '#000';
    ctx.font = '29px ' + FONT;
    ctx.textAlign = 'center';
    ctx.textBaseline = 'middle';
    ctx.fillText(xTitle, 507, 715);
    ctx.save();
    ctx.translate(24, 375);
    ctx.rotate(-Math.PI / 2);
    ctx.fillText(yTitle, 0, 0);
    ctx.restore();

    // legend box
    const lx = 566.5, ly = 6.5, lw = 213, lh = 137;
    ctx.fillStyle = '#fff';
    ctx.fillRect(lx, ly, lw, lh);
    ctx.lineWidth = 1;
    ctx.strokeRect(lx, ly, lw, lh);
    ctx.beginPath();
    ctx.moveTo(lx + lw + 1, ly + 1);
    ctx.lineTo(lx + lw + 1, ly + lh + 1);
    ctx.lineTo(lx + 1, ly + lh + 1);
    ctx.stroke();

    const rowY = [32, 63, 95, 126];
    ctx.font = '25.5px ' + FONT;
    ctx.textAlign = 'left';
    seriesNames.forEach((name, i) => {
      ctx.fillStyle = seriesColors[i];
      if (i < 2) {
        ctx.beginPath();
        ctx.arc(600.5, rowY[i], 2.3, 0, Math.PI * 2);
        ctx.fill();
      } else {
        ctx.fillRect(598.5, rowY[i] - 2, 4, 4);
      }
      ctx.fillStyle = '#000';
      ctx.fillText(name, 637, rowY[i] + 1);
    });
    ctx.restore();
  }
};

const datasetStyle = (i, style, radius) => ({
  label: seriesNames[i],
  pointStyle: style,
  pointRadius: radius,
  backgroundColor: seriesColors[i],
  borderColor: seriesColors[i],
  borderWidth: 0,
  order: 3 - i
});

new Chart(document.getElementById('chart'), {
  type: 'scatter',
  data: {
    datasets: [
      { ...datasetStyle(0, 'circle', 3.0),
        data: toPoints(q11EarlyTime, q11EarlymV)
          .concat(toPoints(q11EarlyTimeOdd, q11EarlymVOdd))
          .concat(toPoints(timeNs, q11mV)) },
      { ...datasetStyle(1, 'circle', 3.0),
        data: toPoints(timeNs, r10mV).concat(toPoints(timeNsOdd, r10mVOdd)) },
      { ...datasetStyle(2, 'rect', 3.8),
        data: toPoints(timeNs, r14mV).concat(toPoints(timeNsOdd, r14mVOdd)) },
      { ...datasetStyle(3, 'rect', 3.8),
        data: toPoints(timeNs, s15mV).concat(toPoints(timeNsOdd, s15mVOdd)) }
    ]
  },
  options: {
    responsive: false,
    animation: false,
    events: [],
    layout: { padding: { top: 72, right: 0, left: 0, bottom: 0 } },
    plugins: {
      legend: { display: false },
      tooltip: { enabled: false }
    },
    scales: {
      x: {
        type: 'linear',
        min: 61.5,
        max: 68.32,
        afterBuildTicks: s => { s.ticks = xTickValues.map(v => ({ value: v })); },
        afterFit: s => { s.height = 93; },
        ticks: {
          autoSkip: false,
          maxRotation: 0,
          padding: 17,
          color: '#000',
          font: { family: FONT, size: 22 },
          callback: v => isMajorTime(v) ? v.toFixed(1) : ''
        },
        grid: {
          drawTicks: false,
          lineWidth: 1,
          color: c => (c.tick && isMajorTime(c.tick.value)) ? '#a0a0a0' : '#c4c4c4'
        },
        border: {
          color: '#000',
          width: 2,
          dash: c => (c.tick && !isMajorTime(c.tick.value)) ? [2, 2] : []
        }
      },
      y: {
        type: 'linear',
        min: -0.125,
        max: 0.35,
        afterBuildTicks: s => { s.ticks = yTickValues.map(v => ({ value: v })); },
        afterFit: s => { s.width = 119; },
        ticks: {
          autoSkip: false,
          padding: 12,
          color: '#000',
          font: { family: FONT, size: 22 },
          callback: v => isMajorVolt(v) ? v.toFixed(2) : ''
        },
        grid: {
          drawTicks: false,
          lineWidth: 1,
          color: c => (c.tick && isMajorVolt(c.tick.value) && c.tick.value < 0.34) ? '#a0a0a0' : 'rgba(0,0,0,0)'
        },
        border: { color: '#000', width: 2 }
      }
    }
  },
  plugins: [axisDecor]
});
</script>
</body>
</html>
